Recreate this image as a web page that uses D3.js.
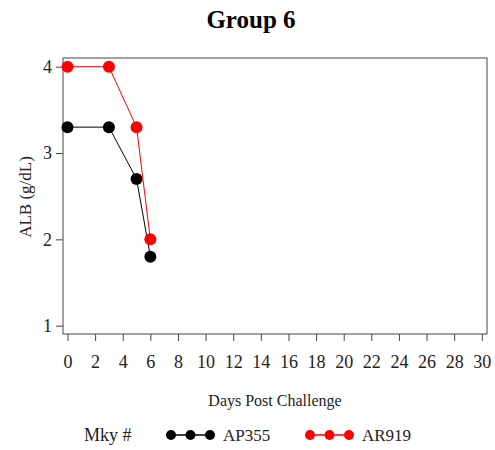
<!DOCTYPE html>
<html><head><meta charset="utf-8">
<script src="https://cdn.jsdelivr.net/npm/d3@7"></script>
<style>body{margin:0;background:#fff}svg{display:block}text{font-family:"Liberation Serif","Times New Roman",serif}</style>
</head><body><svg id="c" width="495" height="450"></svg>
<script>
const days = [0, 3, 5, 6];
const ap355 = [3.3, 3.3, 2.7, 1.8];
const ar919 = [4.0, 4.0, 3.3, 2.0];
const seriesNames = ["AP355", "AR919"];
const seriesColors = ["#000000", "#ff0000"];
const xTicks = d3.range(0, 31, 2);
const yTicks = [1, 2, 3, 4];

const svg = d3.select("#c");
const L = 63, T = 58, R = 487, B = 334;
const x = d3.scaleLinear().domain([0, 30]).range([67.5, 481.8]);
const y = d3.scaleLinear().domain([1, 4]).range([325.7, 66.7]);

svg.append("rect").attr("x", L).attr("y", T).attr("width", R - L).attr("height", B - T)
  .attr("fill", "none").attr("stroke", "#444").attr("stroke-width", 1);

const xa = svg.append("g").attr("transform", `translate(0,${B})`)
  .call(d3.axisBottom(x).tickValues(xTicks).tickFormat(d3.format("d")).tickSize(7).tickPadding(0).tickSizeOuter(0));
xa.select(".domain").remove();
xa.selectAll("line").attr("stroke", "#444");
xa.selectAll("text").attr("font-size", 18).attr("fill", "#222").attr("dy", null).attr("y", 34);

const ya = svg.append("g").attr("transform", `translate(${L},0)`)
  .call(d3.axisLeft(y).tickValues(yTicks).tickFormat(d3.format("d")).tickSize(7).tickPadding(4).tickSizeOuter(0));
ya.select(".domain").remove();
ya.selectAll("line").attr("stroke", "#444");
ya.selectAll("text").attr("font-size", 18).attr("fill", "#222");

svg.append("text").attr("x", 251).attr("y", 28).attr("text-anchor", "middle")
  .attr("font-size", 25).attr("font-weight", "bold").text("Group 6");
svg.append("text").attr("transform", "translate(31,197) rotate(-90)").attr("text-anchor", "middle")
  .attr("font-size", 17).attr("fill", "#222").text("ALB (g/dL)");
svg.append("text").attr("x", 275).attr("y", 406).attr("text-anchor", "middle")
  .attr("font-size", 16).attr("fill", "#222").text("Days Post Challenge");

const data = [ap355, ar919];
const line = d3.line().x((d, i) => x(days[i])).y(d => y(d));
data.forEach((vals, s) => {
  svg.append("path").attr("d", line(vals)).attr("fill", "none")
    .attr("stroke", seriesColors[s]).attr("stroke-width", 1);
  svg.selectAll(null).data(vals).enter().append("circle")
    .attr("cx", (d, i) => x(days[i])).attr("cy", d => y(d)).attr("r", 6)
    .attr("fill", seriesColors[s]);
});

// legend
const lg = svg.append("g");
lg.append("text").attr("x", 84).attr("y", 441).attr("font-size", 18).attr("fill", "#222").text("Mky #");
const legX = [171, 310];
seriesNames.forEach((n, s) => {
  const x0 = legX[s];
  lg.append("line").attr("x1", x0).attr("x2", x0 + 39).attr("y1", 435).attr("y2", 435)
    .attr("stroke", seriesColors[s]).attr("stroke-width", 1.5);
  [0, 19.5, 39].forEach(o => lg.append("circle").attr("cx", x0 + o).attr("cy", 435).attr("r", 5).attr("fill", seriesColors[s]));
  lg.append("text").attr("x", x0 + 52).attr("y", 441).attr("font-size", 17).attr("fill", "#222").text(n);
});
</script></body></html>
